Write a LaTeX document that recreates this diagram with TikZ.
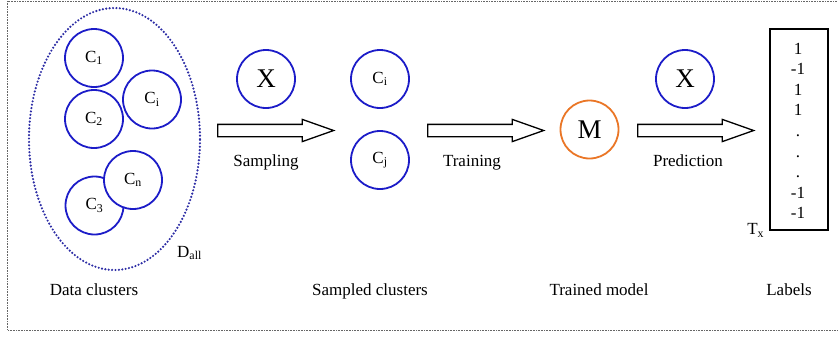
\documentclass[tikz,border=0pt]{standalone}
\usepackage{fontspec}
\setmainfont{Liberation Serif}
\usetikzlibrary{shapes.geometric}
\usetikzlibrary{shapes.arrows}
\definecolor{clublue}{RGB}{28,28,200}
\definecolor{dotblue}{RGB}{45,45,165}
\definecolor{modelorange}{RGB}{234,118,38}

\begin{document}
\begin{tikzpicture}[x=1pt,y=-1pt,
 clu/.style={circle,draw=clublue,line width=1.8pt,fill=white,minimum size=58pt,inner sep=0pt,font=\fontsize{17}{20}\selectfont},
 big/.style={font=\fontsize{27}{30}\selectfont},
 blockarrow/.style={single arrow,draw,line width=1.3pt,anchor=tail,inner xsep=0pt,inner ysep=5.5pt,single arrow head extend=5pt,single arrow tip angle=39,minimum height=116pt},
 txt/.style={anchor=base,inner sep=0pt,font=\fontsize{17}{20}\selectfont}]
\clip (0,0) rectangle (838,338);
\draw[black!60,line width=0.9pt,dash pattern=on 0.8pt off 0.8pt] (7.5,1) rectangle (850,330);

\node[ellipse,draw=dotblue,line width=2.4pt,line cap=round,dash pattern=on 0pt off 3.4pt,minimum width=171pt,minimum height=262pt] (dall) at (114.5,139) {};
\node[txt,anchor=base west] (dalltext) at (177,257) {D\textsubscript{all}};
\node[clu] (c1) at (94,58) {C\textsubscript{1}};
\node[clu] (c2) at (94,119) {C\textsubscript{2}};
\node[clu] (ci) at (152,99.5) {C\textsubscript{i}};
\node[clu] (c3) at (94.5,205.5) {C\textsubscript{3}};
\node[clu] (cn) at (133,180) {C\textsubscript{n}};

\node[clu,big] (xin) at (266,79) {X};
\node[clu] (si) at (380,79) {C\textsubscript{i}};
\node[clu] (sj) at (380,160) {C\textsubscript{j}};
\node[clu,big,draw=modelorange] (model) at (589.5,129.5) {M};
\node[clu,big] (xpred) at (685,79) {X};

\node[blockarrow] (sampling) at (217,130.5) {};
\node[blockarrow] (training) at (427,130.5) {};
\node[blockarrow] (prediction) at (637,130.5) {};
\node[txt] (samplingtext) at (266,166) {Sampling};
\node[txt] (trainingtext) at (472,166) {Training};
\node[txt] (predictiontext) at (688,166) {Prediction};

\node[draw,line width=1.3pt,inner sep=0pt,minimum width=58pt,minimum height=201pt] (labelbox) at (799,129.5) {};
\foreach \v [count=\i] in {1,-1,1,1,.,.,.,-1,-1} {
 \node[txt] (v\i) at (798,{54+20.6*(\i-1)}) {\v};
}
\node[txt,anchor=base east] (tx) at ([xshift=-5pt,yshift=-4pt]labelbox.south west) {T\textsubscript{x}};

\node[txt] (datatext) at (94,295) {Data clusters};
\node[txt] (sampledtext) at (370,295) {Sampled clusters};
\node[txt] (trainedtext) at (599,295) {Trained model};
\node[txt] (labelstext) at (789,295) {Labels};
\end{tikzpicture}
\end{document}
